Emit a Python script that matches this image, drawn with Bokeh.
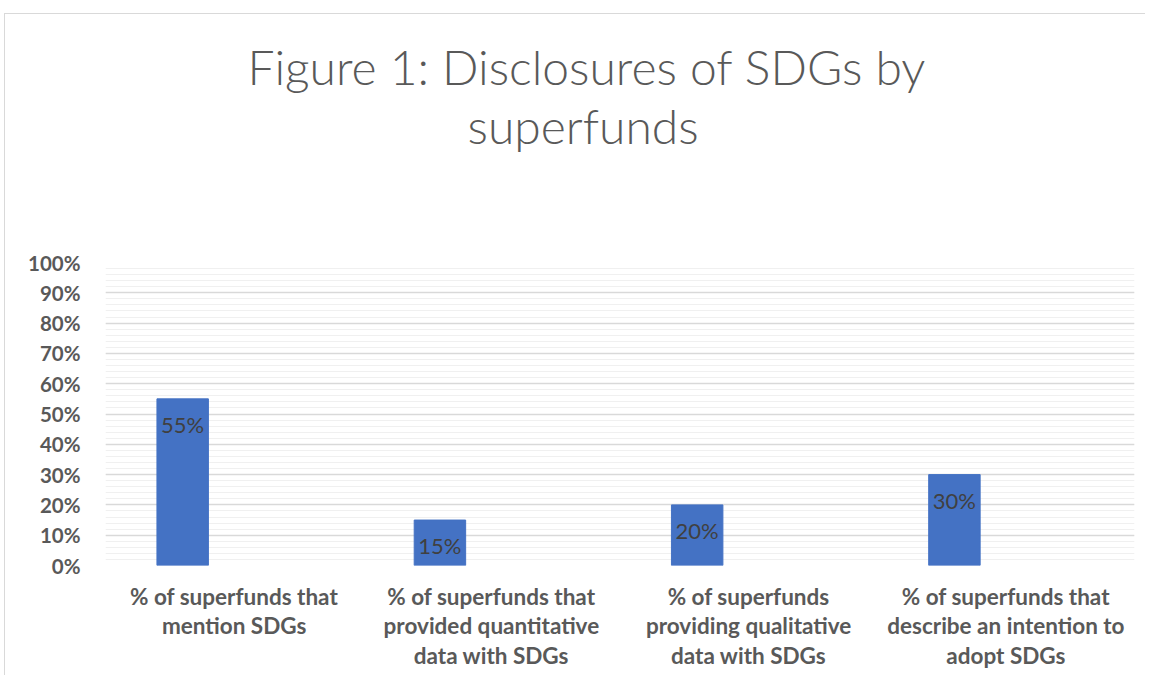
from bokeh.plotting import figure
from bokeh.models import NumeralTickFormatter, FixedTicker, Title, ColumnDataSource
from bokeh.transform import dodge
from bokeh.core.properties import value
from bokeh.embed import file_html
from bokeh.resources import INLINE

title_lines = ["Figure 1: Disclosures of SDGs by", "superfunds"]
categories = [
    "% of superfunds that\nmention SDGs",
    "% of superfunds that\nprovided quantitative\ndata with SDGs",
    "% of superfunds\nproviding qualitative\ndata with SDGs",
    "% of superfunds that\ndescribe an intention to\nadopt SDGs",
]
values = [0.55, 0.15, 0.20, 0.30]
labels = ["55%", "15%", "20%", "30%"]
y_ticks = [0.0, 0.1, 0.2, 0.3, 0.4, 0.5, 0.6, 0.7, 0.8, 0.9, 1.0]
minor_ticks = [i / 50 for i in range(51)]

src = ColumnDataSource(dict(cat=categories, val=values, lab=labels))

p = figure(
    x_range=categories, y_range=(0, 1),
    width=1141, height=662,
    output_backend="svg", toolbar_location=None,
    min_border_left=100, min_border_right=12, min_border_bottom=111, min_border_top=248,
)
p.styles = {
    "margin-left": "4px", "margin-top": "13px",
    "border-top": "1px solid #d9d9d9", "border-left": "1px solid #d9d9d9",
}
p.title.visible = False

# spacer between the frame and the title block
p.add_layout(Title(text=" ", text_font_size="1px", standoff=106), "above")
# two title lines; lower one added first (closest to the frame)
for txt, off in [(title_lines[1], 362), (title_lines[0], 142)]:
    p.add_layout(Title(
        text=txt, align="left", offset=off, standoff=0,
        text_font="Lato Light", text_font_size="48px",
        text_font_style="normal", text_color="#595959",
    ), "above")

p.vbar(x=dodge("cat", -0.2, range=p.x_range), top="val", width=0.2, source=src,
       fill_color="#4472C4", line_color="#4472C4")
p.text(x=dodge("cat", -0.2, range=p.x_range), y="val", text="lab", source=src,
       text_align="center", text_baseline="top", y_offset=12,
       text_font=value("Lato"), text_font_size="22px", text_color="#404040")

p.outline_line_color = None
p.background_fill_color = "white"
p.border_fill_color = "white"

p.xgrid.grid_line_color = None
p.ygrid.ticker = FixedTicker(ticks=y_ticks, minor_ticks=minor_ticks)
p.ygrid.grid_line_color = "#d9d9d9"
p.ygrid.grid_line_width = 1.5
p.ygrid.minor_grid_line_color = "#f0f0f0"
p.ygrid.minor_grid_line_width = 1

p.yaxis.ticker = FixedTicker(ticks=y_ticks)
p.yaxis.formatter = NumeralTickFormatter(format="0%")
p.yaxis.axis_line_color = None
p.yaxis.major_tick_line_color = None
p.yaxis.minor_tick_line_color = None
p.yaxis.major_label_text_font = "Lato"
p.yaxis.major_label_text_font_style = "bold"
p.yaxis.major_label_text_font_size = "20.5px"
p.yaxis.major_label_text_color = "#595959"
p.yaxis.major_label_standoff = 19

p.xaxis.axis_line_color = None
p.xaxis.major_tick_line_color = None
p.xaxis.minor_tick_line_color = None
p.xaxis.major_label_text_font = "Lato"
p.xaxis.major_label_text_font_style = "bold"
p.xaxis.major_label_text_font_size = "22.5px"
p.xaxis.major_label_text_color = "#595959"
p.xaxis.major_label_text_line_height = 1.1
p.xaxis.major_label_standoff = 11

open("out.html", "w").write(file_html(p, INLINE))
